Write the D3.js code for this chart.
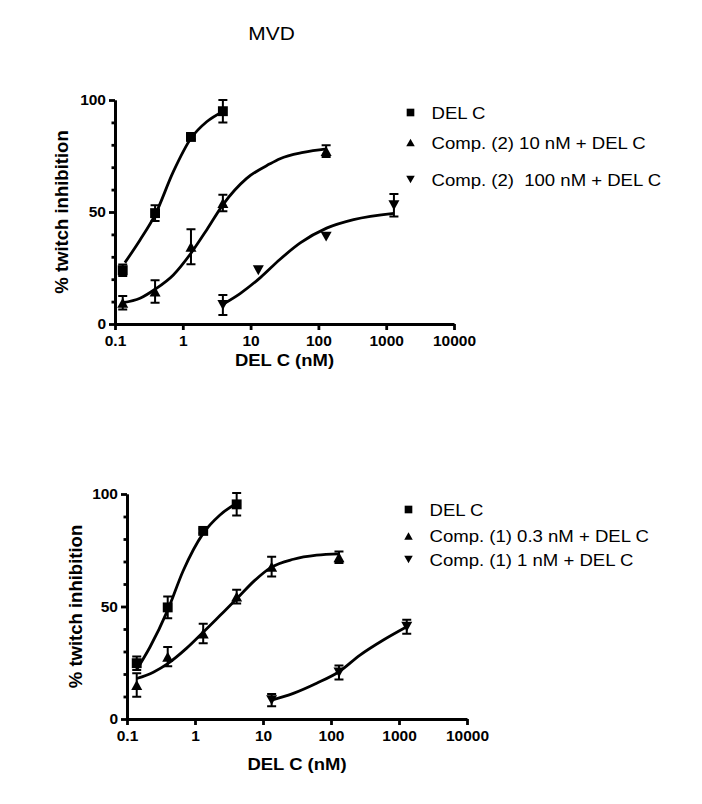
<!DOCTYPE html>
<html>
<head>
<meta charset="utf-8">
<script src="https://cdn.jsdelivr.net/npm/d3@7"></script>
<style>
  html, body { margin: 0; padding: 0; background: #fff; }
  svg { display: block; font-family: "Liberation Sans", Arial, sans-serif; }
  svg text { white-space: pre; }
  .axis path, .axis line { stroke: #000; stroke-width: 2.8; }
</style>
</head>
<body>
<div id="chart"></div>
<script>
//Data
const xTicks = [0.1, 1, 10, 100, 1000, 10000];
const yMajor = [0, 50, 100];
const yMinor = [10, 20, 30, 40, 60, 70, 80, 90];

// top panel (Comp. 2)
const topLabels = ['DEL C', 'Comp. (2) 10 nM + DEL C', 'Comp. (2)  100 nM + DEL C'];
const topDelC = { x: [0.13, 0.39, 1.32, 3.9], y: [24, 49.5, 83.5, 95], err: [2.6, 3.5, 1, 5] };
const topC2low = { x: [0.13, 0.39, 1.32, 3.9, 130], y: [9.5, 14.5, 34.5, 54, 77.2], err: [3, 5, 7.8, 3.7, 2.6] };
const topC2high = { x: [3.9, 13, 130, 1300], y: [8.5, 24, 39, 53], err: [4.5, 0, 0, 5] };
const topFitDelC = [[0.14, 27.4], [0.234, 37.5], [0.39, 48.7], [0.725, 68], [1.32, 82.9], [2.25, 90.3], [3.87, 94.8]];
const topFitC2low = [[0.13, 9.5], [0.234, 11.5], [0.39, 15.5], [0.725, 21.9], [1.32, 31.6], [2.25, 42], [3.87, 53.1],
  [8.75, 65], [19.3, 71.5], [27.2, 73.8], [59.8, 76.6], [132, 78.2]];
const topFitC2high = [[3.9, 8.8], [7, 13.6], [13.8, 20.6], [27, 28.8], [54, 36.2], [132, 42.8], [330, 46.6], [1300, 49.4]];

// bottom panel (Comp. 1)
const botLabels = ['DEL C', 'Comp. (1) 0.3 nM + DEL C', 'Comp. (1) 1 nM + DEL C'];
const botDelC = { x: [0.139, 0.397, 1.32, 4.1], y: [24.8, 49.6, 83.6, 95.4], err: [3, 4.8, 1, 5] };
const botC1low = { x: [0.139, 0.397, 1.32, 4.1, 13.4, 131], y: [15.1, 27.7, 38, 54.4, 67.7, 71.9], err: [5.2, 4.3, 4.3, 3.1, 4.4, 2.6] };
const botC1high = { x: [13.4, 131, 1300], y: [8.4, 20.7, 41], err: [2.7, 3.1, 3.1] };
const botFitDelC = [[0.139, 22], [0.218, 32], [0.397, 48.4], [0.673, 66], [1.32, 82.5], [2.33, 90.7], [4.1, 95.9]];
const botFitC1low = [[0.139, 18], [0.244, 20.8], [0.397, 24.6], [0.755, 31.5], [1.32, 38.6], [2.33, 46], [4.1, 53.4],
  [7.5, 61.5], [13, 67.3], [28, 71], [61.5, 72.8], [131, 73.4]];
const botFitC1high = [[13.4, 8.4], [27.9, 11.4], [61.5, 15.9], [131, 21], [267, 28.4], [589, 35.1], [1300, 41]];

const shapes = ['square', 'up', 'down'];

//Layout
const W = 702, H = 804;
const svg = d3.select('#chart').append('svg').attr('width', W).attr('height', H);

// text helper: slight horizontal stretch to match the wide-set type of the original
const stretchText = (g, x, y, str, size, weight, sx, anchor) =>
  g.append('text')
    .attr('transform', `translate(${x},${y}) scale(${sx},1)`)
    .attr('font-size', size)
    .attr('font-weight', weight)
    .attr('text-anchor', anchor)
    .attr('fill', '#000')
    .text(str);

const markerPath = (shape, cx, cy, s) => {
  const h = s * 0.9 / 2, w = s / 2;
  if (shape === 'square') {
    const a = s * 0.45;
    return `M${cx - a},${cy - a}H${cx + a}V${cy + a}H${cx - a}Z`;
  }
  if (shape === 'up') return `M${cx},${cy - h}L${cx + w},${cy + h}L${cx - w},${cy + h}Z`;
  return `M${cx},${cy + h}L${cx + w},${cy - h}L${cx - w},${cy - h}Z`;
};

stretchText(svg, 271.5, 39.5, 'MVD', 19, 'normal', 1.1, 'middle');

const styleTicks = sel => sel.selectAll('.tick text')
  .style('font-family', '"Liberation Sans", Arial, sans-serif')
  .style('font-size', '15.5px')
  .style('font-weight', 'bold')
  .attr('fill', '#000');

const drawPanel = cfg => {
  const x = d3.scaleLog().domain([0.1, 10000]).range([cfg.left, cfg.right]);
  const y = d3.scaleLinear().domain([0, 100]).range([cfg.bottom, cfg.top]);
  const g = svg.append('g');

  // axes
  g.append('g').attr('class', 'axis').attr('transform', `translate(0,${cfg.bottom})`)
    .call(d3.axisBottom(x).tickValues(xTicks).tickFormat(d => String(d)).tickSize(6).tickSizeOuter(0).tickPadding(5))
    .call(styleTicks);
  g.append('g').attr('class', 'axis').attr('transform', `translate(${cfg.left},0)`)
    .call(d3.axisLeft(y).tickValues(yMinor).tickFormat('').tickSize(3.5).tickSizeOuter(0));
  g.append('g').attr('class', 'axis').attr('transform', `translate(${cfg.left},0)`)
    .call(d3.axisLeft(y).tickValues(yMajor).tickSize(6).tickSizeOuter(0).tickPadding(3))
    .call(styleTicks);
  g.selectAll('.axis .tick line').attr('stroke-width', 2.2);

  // axis titles
  stretchText(g, (cfg.left + cfg.right) / 2, cfg.xTitleY, 'DEL C (nM)', 16.5, 'bold', 1.12, 'middle');
  g.append('text')
    .attr('transform', `translate(${cfg.yTitleX},${(cfg.top + cfg.bottom) / 2}) rotate(-90)`)
    .attr('text-anchor', 'middle')
    .attr('font-size', 18.5)
    .attr('font-weight', 'bold')
    .text('% twitch inhibition');

  // fitted curves
  const line = d3.line().x(d => x(d[0])).y(d => y(d[1])).curve(d3.curveMonotoneX);
  cfg.fits.forEach(f => {
    g.append('path').attr('d', line(f)).attr('fill', 'none')
      .attr('stroke', '#000').attr('stroke-width', 2.8);
  });

  // error bars + markers
  cfg.series.forEach((s, si) => {
    s.x.forEach((xv, i) => {
      const cx = x(xv), cy = y(s.y[i]), e = s.err[i];
      if (e > 0) {
        const y1 = y(s.y[i] + e), y2 = y(s.y[i] - e);
        g.append('path')
          .attr('d', `M${cx},${y1}V${y2}M${cx - 4.5},${y1}H${cx + 4.5}M${cx - 4.5},${y2}H${cx + 4.5}`)
          .attr('fill', 'none').attr('stroke', '#000').attr('stroke-width', 2);
      }
      g.append('path').attr('d', markerPath(shapes[si], cx, cy, 11)).attr('fill', '#000');
    });
  });

  // legend
  cfg.labels.forEach((lab, i) => {
    const ly = cfg.legendY[i];
    g.append('path').attr('d', markerPath(shapes[i], cfg.legendX, ly, 8.5)).attr('fill', '#000');
    stretchText(g, cfg.legendX + 21, ly + 6, lab, 16, 'normal', 1.16, 'start');
  });
};

drawPanel({
  left: 115, right: 454, top: 100, bottom: 324,
  xTitleY: 366, yTitleX: 68,
  series: [topDelC, topC2low, topC2high],
  fits: [topFitDelC, topFitC2low, topFitC2high],
  labels: topLabels, legendX: 410.5, legendY: [112.5, 142.5, 179.5]
});

drawPanel({
  left: 127, right: 467, top: 494, bottom: 719,
  xTitleY: 770, yTitleX: 81.5,
  series: [botDelC, botC1low, botC1high],
  fits: [botFitDelC, botFitC1low, botFitC1high],
  labels: botLabels, legendX: 408.5, legendY: [509.5, 536, 559.5]
});
</script>
</body>
</html>
